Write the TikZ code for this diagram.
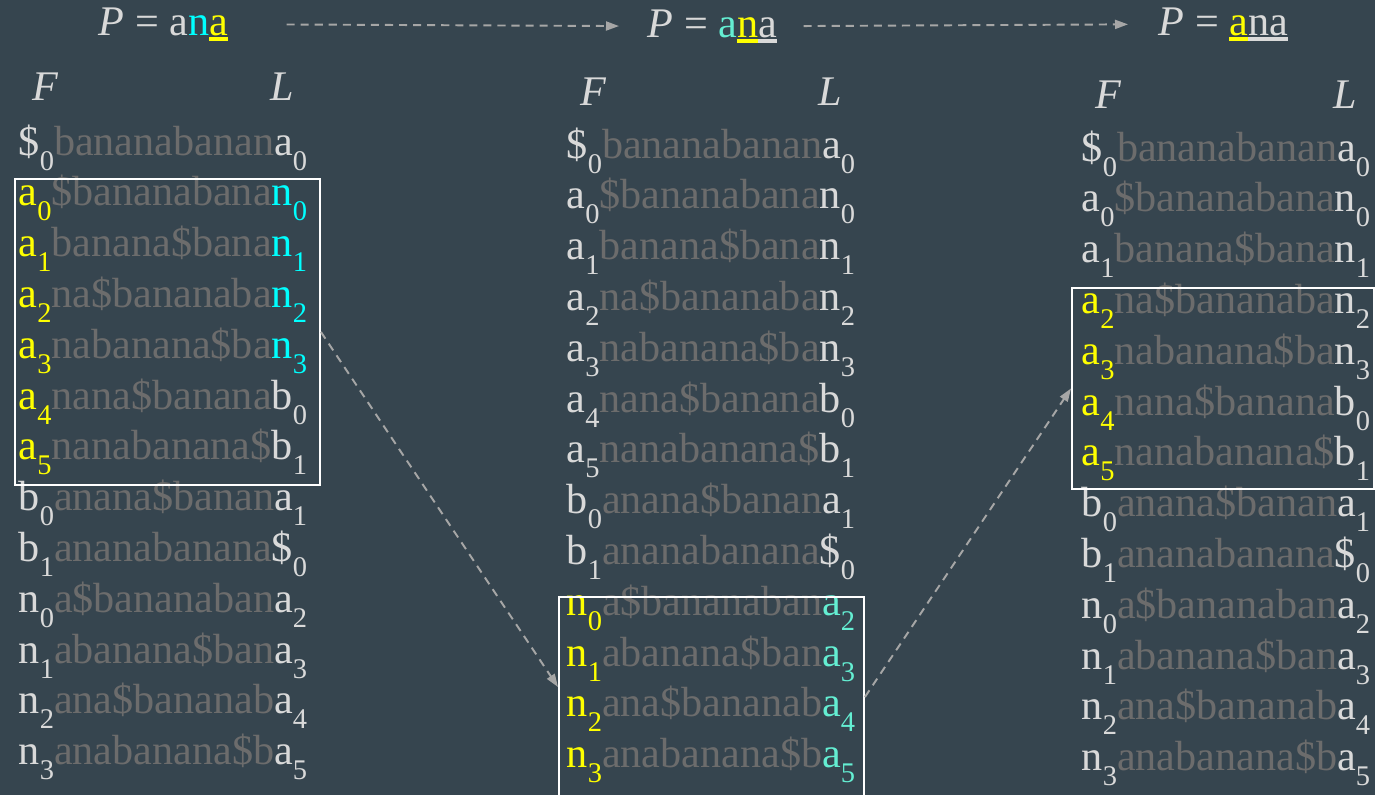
\documentclass[tikz,border=0pt]{standalone}
\usepackage{fontspec}
\setmainfont{Liberation Serif}
\usetikzlibrary{calc,arrows.meta}

\definecolor{bg}{RGB}{54,69,79}
\definecolor{light}{RGB}{217,217,217}
\definecolor{dim}{RGB}{108,108,108}
\definecolor{hlyel}{RGB}{255,255,0}
\definecolor{hlcyan}{RGB}{0,255,255}
\definecolor{hlaqua}{RGB}{100,238,210}
\definecolor{arrgray}{RGB}{166,166,166}

\newcommand{\lo}[1]{\raisebox{-4.3pt}{\fontsize{8.1}{8}\selectfont #1}}
\newcommand{\bwt}[7]{\textcolor{#1}{#2\lo{#3}}\textcolor{dim}{#4}\textcolor{#5}{#6\lo{#7}}}
\newcommand{\ulc}[2]{\setbox0\hbox{#2}\rlap{\textcolor{#1}{\rule[-1.7pt]{\wd0}{1.1pt}}}\box0}

\begin{document}
\begin{tikzpicture}[x=0.1mm,y=-0.1mm,>={Triangle[length=1.3mm,width=0.9mm]},
  txt/.style={inner sep=0pt,anchor=base west,text=light,font=\fontsize{12}{14}\selectfont},
  hlbox/.style={draw=white,line width=0.55pt,inner sep=0pt,anchor=north west},
  link/.style={->,arrgray,line width=0.55pt,dash pattern=on 2.3pt off 1.7pt}]
  \fill[bg] (0,0) rectangle (1375,795);
  \useasboundingbox (0,0) rectangle (1375,795);
  % --- patterns ---
  \node[txt] (P1) at (98,35) {\textit{P} = a\textcolor{hlcyan}{n}\ulc{hlyel}{\textcolor{hlyel}{a}}};
  \node[txt] (P2) at (647,37) {\textit{P} = \textcolor{hlaqua}{a}\ulc{hlyel}{\textcolor{hlyel}{n}}\ulc{light}{a}};
  \node[txt] (P3) at (1158,35) {\textit{P} = \ulc{hlyel}{\textcolor{hlyel}{a}}\ulc{light}{na}};
  % --- F / L headers ---
  \node[txt] (F1) at (32,100) {\textit{F}};
  \node[txt] (L1) at (270,100) {\textit{L}};
  \node[txt] (F2) at (580,105) {\textit{F}};
  \node[txt] (L2) at (818,105) {\textit{L}};
  \node[txt] (F3) at (1095,108) {\textit{F}};
  \node[txt] (L3) at (1333,108) {\textit{L}};
  % --- column 1 ---
  \begin{scope}[shift={(18,155)}]
    \node[txt] (c1r0)  at (0,0)     {\bwt{light}{\$}{0}{bananabanan}{light}{a}{0}};
    \node[txt] (c1r1)  at (0,50.8)  {\bwt{hlyel}{a}{0}{\$bananabana}{hlcyan}{n}{0}};
    \node[txt] (c1r2)  at (0,101.6) {\bwt{hlyel}{a}{1}{banana\$bana}{hlcyan}{n}{1}};
    \node[txt] (c1r3)  at (0,152.4) {\bwt{hlyel}{a}{2}{na\$bananaba}{hlcyan}{n}{2}};
    \node[txt] (c1r4)  at (0,203.2) {\bwt{hlyel}{a}{3}{nabanana\$ba}{hlcyan}{n}{3}};
    \node[txt] (c1r5)  at (0,254)   {\bwt{hlyel}{a}{4}{nana\$banana}{light}{b}{0}};
    \node[txt] (c1r6)  at (0,304.8) {\bwt{hlyel}{a}{5}{nanabanana\$}{light}{b}{1}};
    \node[txt] (c1r7)  at (0,355.6) {\bwt{light}{b}{0}{anana\$banan}{light}{a}{1}};
    \node[txt] (c1r8)  at (0,406.4) {\bwt{light}{b}{1}{ananabanana}{light}{\$}{0}};
    \node[txt] (c1r9)  at (0,457.2) {\bwt{light}{n}{0}{a\$bananaban}{light}{a}{2}};
    \node[txt] (c1r10) at (0,508)   {\bwt{light}{n}{1}{abanana\$ban}{light}{a}{3}};
    \node[txt] (c1r11) at (0,558.8) {\bwt{light}{n}{2}{ana\$bananab}{light}{a}{4}};
    \node[txt] (c1r12) at (0,609.6) {\bwt{light}{n}{3}{anabanana\$b}{light}{a}{5}};
  \end{scope}
  % --- column 2 ---
  \begin{scope}[shift={(566,158)}]
    \node[txt] (c2r0)  at (0,0)     {\bwt{light}{\$}{0}{bananabanan}{light}{a}{0}};
    \node[txt] (c2r1)  at (0,50.8)  {\bwt{light}{a}{0}{\$bananabana}{light}{n}{0}};
    \node[txt] (c2r2)  at (0,101.6) {\bwt{light}{a}{1}{banana\$bana}{light}{n}{1}};
    \node[txt] (c2r3)  at (0,152.4) {\bwt{light}{a}{2}{na\$bananaba}{light}{n}{2}};
    \node[txt] (c2r4)  at (0,203.2) {\bwt{light}{a}{3}{nabanana\$ba}{light}{n}{3}};
    \node[txt] (c2r5)  at (0,254)   {\bwt{light}{a}{4}{nana\$banana}{light}{b}{0}};
    \node[txt] (c2r6)  at (0,304.8) {\bwt{light}{a}{5}{nanabanana\$}{light}{b}{1}};
    \node[txt] (c2r7)  at (0,355.6) {\bwt{light}{b}{0}{anana\$banan}{light}{a}{1}};
    \node[txt] (c2r8)  at (0,406.4) {\bwt{light}{b}{1}{ananabanana}{light}{\$}{0}};
    \node[txt] (c2r9)  at (0,457.2) {\bwt{hlyel}{n}{0}{a\$bananaban}{hlaqua}{a}{2}};
    \node[txt] (c2r10) at (0,508)   {\bwt{hlyel}{n}{1}{abanana\$ban}{hlaqua}{a}{3}};
    \node[txt] (c2r11) at (0,558.8) {\bwt{hlyel}{n}{2}{ana\$bananab}{hlaqua}{a}{4}};
    \node[txt] (c2r12) at (0,609.6) {\bwt{hlyel}{n}{3}{anabanana\$b}{hlaqua}{a}{5}};
  \end{scope}
  % --- column 3 ---
  \begin{scope}[shift={(1081,161)}]
    \node[txt] (c3r0)  at (0,0)     {\bwt{light}{\$}{0}{bananabanan}{light}{a}{0}};
    \node[txt] (c3r1)  at (0,50.8)  {\bwt{light}{a}{0}{\$bananabana}{light}{n}{0}};
    \node[txt] (c3r2)  at (0,101.6) {\bwt{light}{a}{1}{banana\$bana}{light}{n}{1}};
    \node[txt] (c3r3)  at (0,152.4) {\bwt{hlyel}{a}{2}{na\$bananaba}{light}{n}{2}};
    \node[txt] (c3r4)  at (0,203.2) {\bwt{hlyel}{a}{3}{nabanana\$ba}{light}{n}{3}};
    \node[txt] (c3r5)  at (0,254)   {\bwt{hlyel}{a}{4}{nana\$banana}{light}{b}{0}};
    \node[txt] (c3r6)  at (0,304.8) {\bwt{hlyel}{a}{5}{nanabanana\$}{light}{b}{1}};
    \node[txt] (c3r7)  at (0,355.6) {\bwt{light}{b}{0}{anana\$banan}{light}{a}{1}};
    \node[txt] (c3r8)  at (0,406.4) {\bwt{light}{b}{1}{ananabanana}{light}{\$}{0}};
    \node[txt] (c3r9)  at (0,457.2) {\bwt{light}{n}{0}{a\$bananaban}{light}{a}{2}};
    \node[txt] (c3r10) at (0,508)   {\bwt{light}{n}{1}{abanana\$ban}{light}{a}{3}};
    \node[txt] (c3r11) at (0,558.8) {\bwt{light}{n}{2}{ana\$bananab}{light}{a}{4}};
    \node[txt] (c3r12) at (0,609.6) {\bwt{light}{n}{3}{anabanana\$b}{light}{a}{5}};
  \end{scope}
  % --- ranges ---
  \node[hlbox,minimum width=30.5mm,minimum height=30.6mm] (box1) at (14,178) {};
  \node[hlbox,minimum width=30.5mm,minimum height=21mm] (box2) at (558,596) {};
  \node[hlbox,minimum width=30.2mm,minimum height=20.1mm] (box3) at (1071,287) {};
  % --- steps ---
  \draw[link,shorten <=5.8mm,shorten >=2.8mm] (P1.east) -- (P2.west);
  \draw[link,shorten <=2.6mm,shorten >=3mm] (P2.east) -- (P3.west);
  \draw[link] (box1.east) -- ([yshift=-9.1mm]box2.north west);
  \draw[link] ([yshift=-10.1mm]box2.north east) -- (box3.west);
\end{tikzpicture}
\end{document}
